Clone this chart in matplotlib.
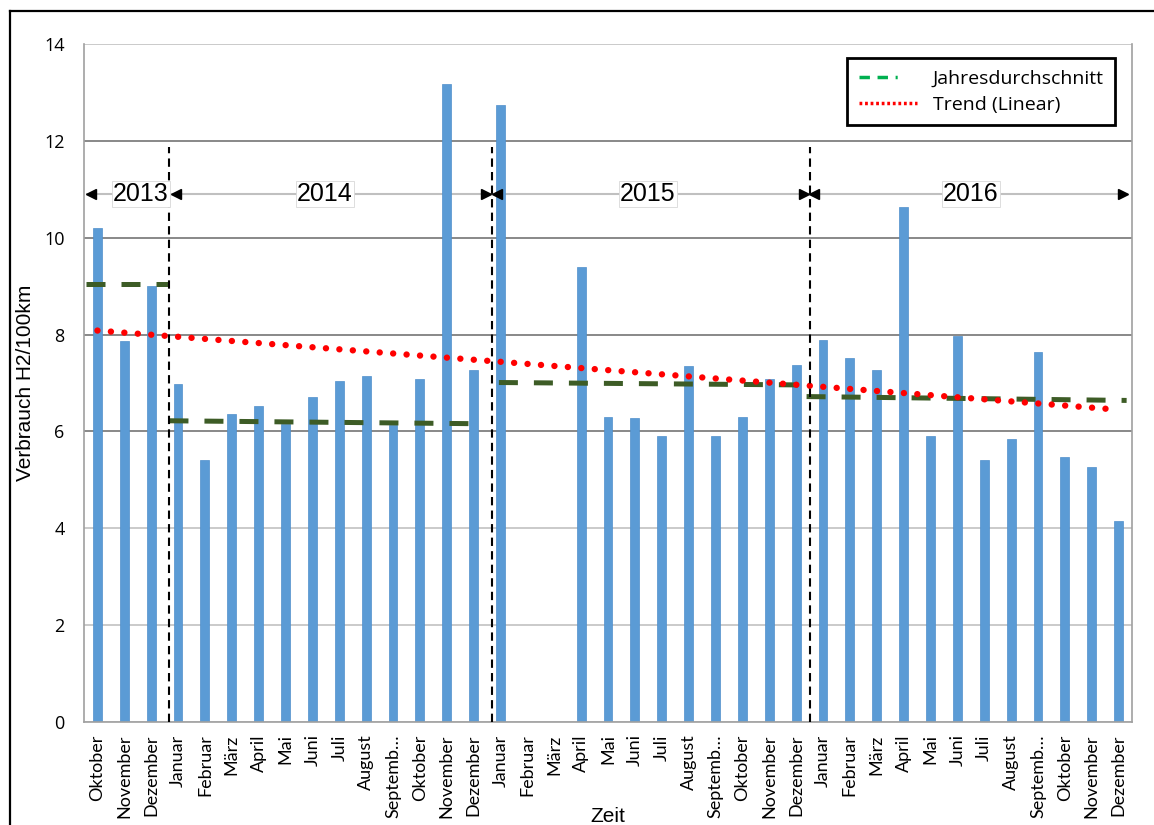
import numpy as np
import matplotlib
matplotlib.use("Agg")
import matplotlib.pyplot as plt
from matplotlib.lines import Line2D

# Monthly hydrogen consumption, Oktober 2013 - Dezember 2016
months = ["Oktober", "November", "Dezember",
          "Januar", "Februar", "März", "April", "Mai", "Juni", "Juli", "August",
          "Septemb…", "Oktober", "November", "Dezember",
          "Januar", "Februar", "März", "April", "Mai", "Juni", "Juli", "August",
          "Septemb…", "Oktober", "November", "Dezember",
          "Januar", "Februar", "März", "April", "Mai", "Juni", "Juli", "August",
          "Septemb…", "Oktober", "November", "Dezember"]
verbrauch = [10.2, 7.87, 9.0,
             6.98, 5.42, 6.35, 6.53, 6.15, 6.72, 7.04, 7.14, 6.13, 7.08, 13.17, 7.27,
             12.75, np.nan, np.nan, 9.4, 6.29, 6.27, 5.9, 7.35, 5.9, 6.29, 7.08, 7.38,
             7.89, 7.51, 7.27, 10.63, 5.9, 7.97, 5.4, 5.84, 7.65, 5.47, 5.27, 4.15]

# Yearly averages: start/end position and start/end value of each segment
years = ["2013", "2014", "2015", "2016"]
avg_x_start = [-0.43, 2.68, 14.94, 26.39]
avg_x_end = [2.68, 14.0, 26.25, 38.3]
avg_start = [9.04, 6.22, 7.01, 6.72]
avg_end = [9.04, 6.16, 6.96, 6.64]

# Year separators and year-span arrows
separators = [2.68, 14.67, 26.52]
span_left = [-0.39, 2.77, 14.72, 26.51]
span_right = [2.63, 14.6, 26.44, 38.3]
year_label_x = [1.62, 8.47, 20.48, 32.5]
span_y = 10.9

fig = plt.figure(figsize=(11.54, 8.25), dpi=100)
ax = fig.add_axes([84 / 1154, 1 - 722 / 825, 1048 / 1154, 678 / 825])

x = np.arange(len(months))
vals = np.array(verbrauch, dtype=float)

ax.set_xlim(-0.5, len(months) - 0.5)
ax.set_ylim(0, 14)

# grid lines
for yv in range(0, 15, 2):
    col = "#7f7f7f" if yv in (6, 8, 10, 12) else "#c6c6c6"
    ax.axhline(yv, color=col, lw=1.3, zorder=0)

ax.bar(x, np.nan_to_num(vals), width=0.33, color="#5b9bd5",
       edgecolor="#4f8fcb", linewidth=0.5, zorder=2)

# linear trend over the available months
mask = ~np.isnan(vals)
coef = np.polyfit(x[mask], vals[mask], 1)
tx = np.array([0, len(months) - 1])
ax.plot(tx, np.polyval(coef, tx), color="#ff0000", lw=4.6,
        linestyle=(0, (0.01, 2.1)), dash_capstyle="round", zorder=4)

# yearly averages
for xs, xe, ys, ye in zip(avg_x_start, avg_x_end, avg_start, avg_end):
    ax.plot([xs, xe], [ys, ye], color="#3d5c26", lw=3.6,
            linestyle=(0, (3.8, 3.2)), dash_capstyle="butt", zorder=3)

# year separators
for sx in separators:
    ax.plot([sx, sx], [0, 11.87], color="black", lw=1.5,
            linestyle=(0, (4, 2.5)), zorder=5)

# year span arrows
ax.plot([span_left[0], span_right[-1]], [span_y, span_y], color="#c0c0c0",
        lw=1.5, zorder=1)
for l, r in zip(span_left, span_right):
    ax.plot([l + 0.15], [span_y], marker="<", ms=6.5, color="black",
            mec="black", zorder=6, ls="none")
    ax.plot([r - 0.15], [span_y], marker=">", ms=6.5, color="black",
            mec="black", zorder=6, ls="none")
for lbl, lx in zip(years, year_label_x):
    ax.text(lx, span_y, lbl, ha="center", va="center", fontsize=18,
            family="Liberation Sans", zorder=7,
            bbox=dict(boxstyle="square,pad=0.05", fc="white", ec="#d8d8d8",
                      lw=0.6))

# axes styling
for side in ("left", "bottom", "right"):
    ax.spines[side].set_color("#a0a0a0")
    ax.spines[side].set_linewidth(1.2)
ax.spines["top"].set_visible(False)
ax.set_yticks(range(0, 15, 2))
ax.set_yticklabels([str(v) for v in range(0, 15, 2)], family="Open Sans",
                   fontsize=13)
ax.set_xticks(x)
ax.set_xticklabels(months, rotation=90, family="Lato", fontsize=13)
ax.tick_params(axis="y", length=0, pad=14)
ax.tick_params(axis="x", length=0, pad=9)

ax.set_ylabel("Verbrauch H2/100km", family="Liberation Sans", fontsize=15)
ax.yaxis.set_label_coords(-0.047, 0.5)
ax.set_xlabel("Zeit", family="Liberation Sans", fontsize=15, labelpad=-8)

# legend
handles = [Line2D([], [], color="#00b050", lw=2.5,
                  linestyle=(0, (3, 2.2, 3, 2.2, 0.6, 10))),
           Line2D([], [], color="#ff0000", lw=2.5,
                  linestyle=(0, (0.8, 0.8)))]
leg = ax.legend(handles, ["Jahresdurchschnitt", "Trend (Linear)"],
                loc="upper right", bbox_to_anchor=(0.984, 0.979),
                borderaxespad=0,
                prop={"family": "Open Sans", "size": 14}, fancybox=False,
                edgecolor="black", framealpha=1, handlelength=3.0,
                borderpad=0.6, labelspacing=0.4, handletextpad=0.8)
leg.get_frame().set_linewidth(2)
leg.set_zorder(10)

# outer frame
fig.add_artist(Line2D([10 / 1154, 10 / 1154], [0, 1 - 11 / 825],
                      color="black", lw=1.6, transform=fig.transFigure))
fig.add_artist(Line2D([10 / 1154, 1], [1 - 11 / 825, 1 - 11 / 825],
                      color="black", lw=1.6, transform=fig.transFigure))

fig.savefig("out.png", dpi=100)
